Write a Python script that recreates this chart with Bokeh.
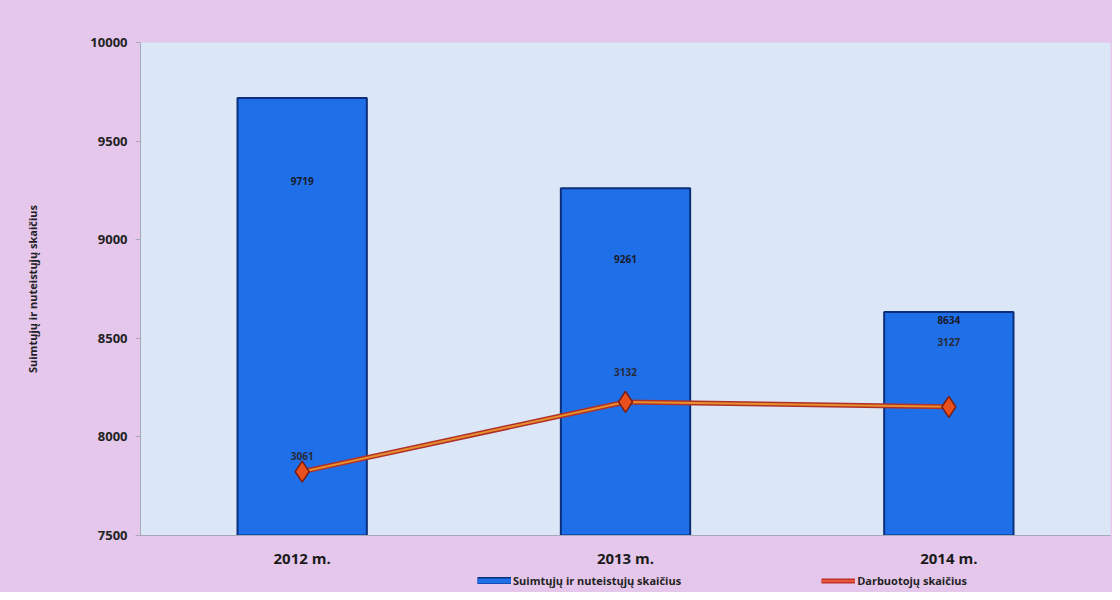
from bokeh.plotting import figure
from bokeh.layouts import column
from bokeh.models import ColumnDataSource, Range1d, FactorRange, Legend, LegendItem, FixedTicker
from bokeh.embed import file_html
from bokeh.resources import INLINE
from bokeh.core.properties import value

# ---- data ----
years = ["2012 m.", "2013 m.", "2014 m."]
inmates = [9719, 9261, 8634]          # Suimtųjų ir nuteistųjų skaičius
staff = [3061, 3132, 3127]            # Darbuotojų skaičius
y_ticks = [7500, 8000, 8500, 9000, 9500, 10000]
series_names = ["Suimtųjų ir nuteistųjų skaičius", "Darbuotojų skaičius"]

# label pixel offsets (style; positive = downwards)
bar_label_dy = [83, 71, 8]
line_label_dy = [-16, -30, -65]

PINK = "#e5c7ec"
BAR_FILL = "#1f6fe8"
BAR_LINE = "#0b2f7a"

src = ColumnDataSource(dict(
    x=years, bar=inmates, staff=staff,
    bar_txt=[str(v) for v in inmates],
    staff_txt=[str(v) for v in staff],
    bdy=bar_label_dy, ldy=line_label_dy,
))

p = figure(width=1112, height=570, x_range=FactorRange(*years),
           y_range=Range1d(7500, 10000), output_backend="svg",
           toolbar_location=None, min_border_left=140, min_border_top=42,
           min_border_right=2, min_border_bottom=33)
p.extra_y_ranges = {"staff": Range1d(2996, 3498)}

p.background_fill_color = "#dbe7f7"
p.border_fill_color = PINK
p.outline_line_color = None
p.xgrid.grid_line_color = None
p.ygrid.grid_line_color = None

p.vbar(x="x", top="bar", bottom=7500, width=0.4, source=src,
       fill_color=BAR_FILL, line_color=BAR_LINE, line_width=2)
p.line(x="x", y="staff", source=src, y_range_name="staff",
       line_color="#b0302a", line_width=5)
p.line(x="x", y="staff", source=src, y_range_name="staff",
       line_color="#e8902a", line_width=2)
p.scatter(x="x", y="staff", source=src, y_range_name="staff", marker="diamond",
          size=21, fill_color="#e8501e", line_color="#7a1a10", line_width=1.5)

p.text(x="x", y="bar", text="bar_txt", source=src, y_offset="bdy",
       text_align="center", text_baseline="middle",
       text_font=value("Open Sans"), text_font_style="bold",
       text_font_size="10px", text_color="#1a1a2a")
p.text(x="x", y="staff", text="staff_txt", source=src, y_range_name="staff",
       y_offset="ldy", text_align="center", text_baseline="middle",
       text_font=value("Open Sans"), text_font_style="bold",
       text_font_size="10px", text_color="#2a2a3a")

# axes
p.yaxis.ticker = FixedTicker(ticks=y_ticks)
p.yaxis.axis_line_color = "#a8a8b8"
p.yaxis.major_tick_line_color = "#a8a8b8"
p.yaxis.major_tick_out = 5
p.yaxis.major_tick_in = 0
p.yaxis.minor_tick_line_color = None
p.yaxis.major_label_text_font = "Open Sans"
p.yaxis.major_label_text_font_style = "bold"
p.yaxis.major_label_text_font_size = "13px"
p.yaxis.major_label_text_color = "#222222"
p.yaxis.major_label_standoff = 8
p.yaxis.axis_label = "Suimtųjų ir nuteistųjų skaičius"
p.yaxis.axis_label_text_font = "Open Sans"
p.yaxis.axis_label_text_font_style = "bold"
p.yaxis.axis_label_text_font_size = "11px"
p.yaxis.axis_label_text_color = "#222222"
p.yaxis.axis_label_standoff = 47

p.xaxis.axis_line_color = "#a8a8b8"
p.xaxis.major_tick_line_color = None
p.xaxis.major_label_text_font = "Open Sans"
p.xaxis.major_label_text_font_style = "bold"
p.xaxis.major_label_text_font_size = "15px"
p.xaxis.major_label_text_color = "#1a1a1a"
p.xaxis.major_label_standoff = 6

# legend strip below the chart; its line renderers lie outside the strip's view,
# so only their legend swatches show
lg = figure(width=1112, height=22, x_range=FactorRange(*years),
            y_range=Range1d(-20000, -10000),
            output_backend="svg", toolbar_location=None,
            min_border_left=140, min_border_right=2, min_border_top=0,
            min_border_bottom=0, x_axis_type=None, y_axis_type=None)
lg.background_fill_alpha = 0
lg.border_fill_color = PINK
lg.outline_line_color = None
lg.xgrid.grid_line_color = None
lg.ygrid.grid_line_color = None
r_b1 = lg.line(x="x", y="bar", source=src, line_color=BAR_LINE, line_width=8,
               line_cap="butt")
r_b2 = lg.line(x="x", y="bar", source=src, line_color=BAR_FILL, line_width=5,
               line_cap="butt")
r_l1 = lg.line(x="x", y="staff", source=src, line_color="#c0302a", line_width=5)
r_l2 = lg.line(x="x", y="staff", source=src, line_color="#e85a3a", line_width=2)

legend = Legend(items=[
    LegendItem(label=series_names[0], renderers=[r_b1, r_b2]),
    LegendItem(label=series_names[1], renderers=[r_l1, r_l2]),
], orientation="horizontal", location=(337, 4), spacing=140,
    glyph_width=34, glyph_height=7, label_standoff=2, padding=0, margin=0,
    border_line_color=None, background_fill_alpha=0,
    label_text_font="Open Sans", label_text_font_style="bold",
    label_text_font_size="11px", label_text_color="#222222",
    label_height=12)
lg.add_layout(legend, "center")

layout = column(p, lg, spacing=0, styles={"background-color": PINK})
open("out.html", "w").write(file_html(layout, INLINE))
